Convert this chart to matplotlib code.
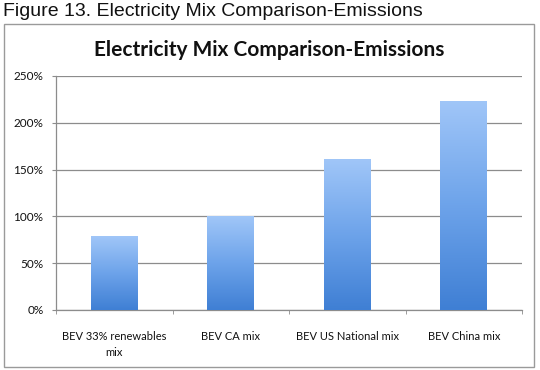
import numpy as np
import matplotlib
matplotlib.use("Agg")
import matplotlib.pyplot as plt
from matplotlib.colors import LinearSegmentedColormap
from matplotlib.patches import Rectangle
from matplotlib.ticker import FuncFormatter

categories = ["BEV 33% renewables\nmix", "BEV CA mix", "BEV US National mix", "BEV China mix"]
values = [79, 100, 161, 223]
yticks = [0, 50, 100, 150, 200, 250]

fig = plt.figure(figsize=(5.4, 3.7), dpi=100)
fig.patch.set_facecolor("white")

# outer caption
fig.text(3 / 540, 1 - 12 / 370, "Figure 13. Electricity Mix Comparison-Emissions",
         fontsize=14, family="Liberation Sans", ha="left", va="center", color="#111111")

# chart frame
frame = Rectangle((3.5 / 540, 3 / 370), 530 / 540, 343 / 370, transform=fig.transFigure,
                  fill=False, edgecolor="#9a9a9a", linewidth=1.0)
fig.add_artist(frame)

fig.text(269 / 540, 1 - 50 / 370, "Electricity Mix Comparison-Emissions",
         fontsize=15, fontweight="bold", family="Lato", ha="center", va="center", color="#111111")

ax = fig.add_axes([56 / 540, 1 - 310 / 370, 466 / 540, 234 / 370])
x = np.arange(len(categories))
bars = ax.bar(x, values, width=0.4, color="none", zorder=3)

cmap = LinearSegmentedColormap.from_list("g", ["#3f7fd4", "#6da3ea", "#a0c6f8"])
grad = np.linspace(0, 1, 256).reshape(-1, 1)
for b in bars:
    x0, y0 = b.get_x(), b.get_y()
    w, h = b.get_width(), b.get_height()
    im = ax.imshow(grad, cmap=cmap, origin="lower", aspect="auto",
                   extent=(x0, x0 + w, y0, y0 + h), zorder=3)
    im.set_clip_path(b)

ax.set_xlim(-0.5, len(categories) - 0.5)
ax.set_ylim(0, 250)
ax.set_yticks(yticks)
ax.yaxis.set_major_formatter(FuncFormatter(lambda v, p: f"{int(v)}%"))
ax.yaxis.grid(True, color="#8c8c8c", linewidth=0.9, zorder=0)
ax.set_axisbelow(True)

ax.set_xticks(x)
ax.set_xticklabels(categories, family="Lato", fontsize=8, color="#111111", linespacing=1.55)
ax.set_xticks(np.arange(-0.5, len(categories)), minor=True)
ax.tick_params(axis="x", which="major", length=0, pad=15)
ax.tick_params(axis="x", which="minor", length=3, color="#8c8c8c", direction="out")
ax.tick_params(axis="y", length=3, color="#8c8c8c", labelsize=8.5, labelcolor="#111111", pad=6)
for lab in ax.get_yticklabels():
    lab.set_family("Lato")

for s in ["top", "right"]:
    ax.spines[s].set_visible(False)
for s in ["left", "bottom"]:
    ax.spines[s].set_color("#8c8c8c")
    ax.spines[s].set_linewidth(0.9)

fig.savefig("out.png", dpi=100, facecolor="white")
